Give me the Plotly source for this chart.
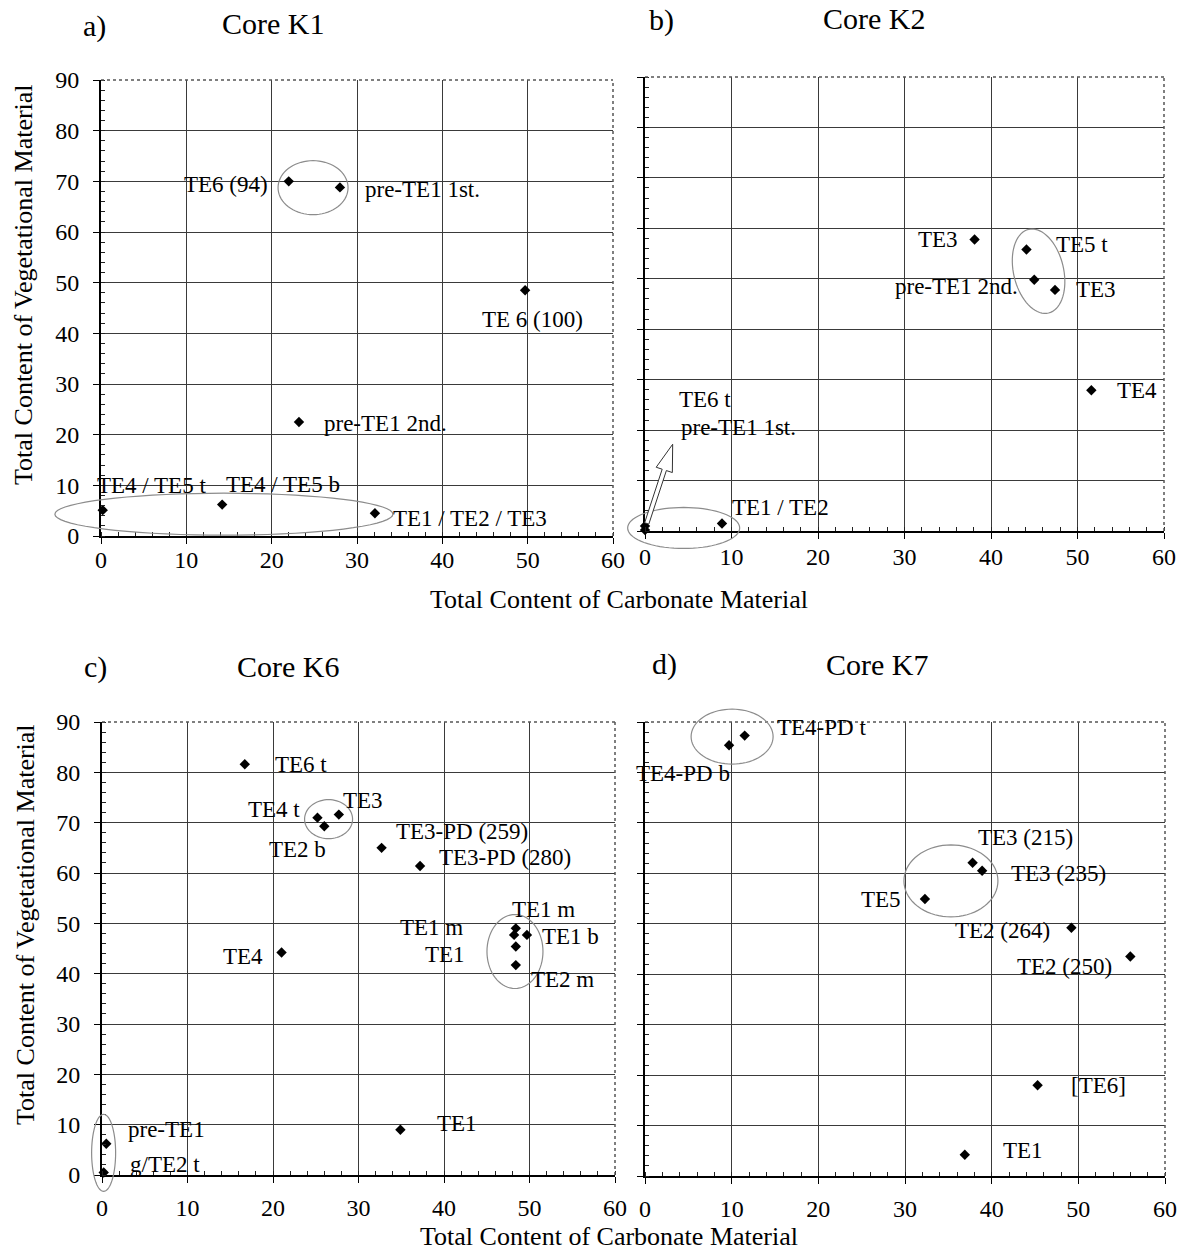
import math
import plotly.graph_objects as go

W, H = 1192, 1253
FONT = "Liberation Serif, Times New Roman, serif"

# ---------------- data ----------------
k1_labels = ["TE6 (94)", "pre-TE1 1st.", "TE 6 (100)", "pre-TE1 2nd.",
             "TE4 / TE5 t", "TE4 / TE5 b", "TE1 / TE2 / TE3"]
k1_carbonate = [22.0, 28.0, 49.7, 23.2, 0.2, 14.2, 32.1]
k1_vegetational = [70.0, 68.8, 48.5, 22.5, 5.1, 6.2, 4.5]

k2_labels = ["TE3", "TE5 t", "pre-TE1 2nd.", "TE3", "TE4", "TE1 / TE2",
             "TE6 t", "pre-TE1 1st."]
k2_carbonate = [38.1, 44.1, 45.0, 47.4, 51.6, 8.9, 0.0, 0.0]
k2_vegetational = [57.8, 55.8, 49.8, 47.8, 27.9, 1.5, 1.0, 0.2]

k6_labels = ["TE6 t", "TE4 t", "TE2 b", "TE3", "TE3-PD (259)", "TE3-PD (280)",
             "TE1 m", "TE1 m", "TE1 b", "TE1", "TE2 m", "TE4", "TE1",
             "pre-TE1", "g/TE2 t"]
k6_carbonate = [16.7, 25.2, 26.0, 27.7, 32.7, 37.2, 48.4, 48.2, 49.7, 48.4,
                48.4, 21.0, 34.9, 0.5, 0.2]
k6_vegetational = [81.6, 71.0, 69.3, 71.6, 65.0, 61.4, 49.0, 47.7, 47.7, 45.4,
                   41.7, 44.2, 9.0, 6.2, 0.5]

k7_labels = ["TE4-PD t", "TE4-PD b", "TE3 (215)", "TE3 (235)", "TE5",
             "TE2 (264)", "TE2 (250)", "[TE6]", "TE1"]
k7_carbonate = [11.5, 9.7, 37.8, 38.9, 32.3, 49.2, 56.0, 45.3, 36.9]
k7_vegetational = [87.3, 85.4, 62.1, 60.5, 54.9, 49.2, 43.5, 18.0, 4.2]

x_ticks = [0, 10, 20, 30, 40, 50, 60]
y_ticks = [0, 10, 20, 30, 40, 50, 60, 70, 80, 90]

# ---------------- label placement (anchor, dx px, dy px up) ----------------
k1_place = [("right", -19, -3), ("left", 23, -2), ("center", 7, -29),
            ("left", 23, -1), ("left", -8, 25), ("left", 2, 20),
            ("left", 16, -5)]
k2_place = [("right", -15, 0), ("left", 28, 5), ("right", -14, -7),
            ("left", 19, 0), ("left", 24, 0), ("left", 8, 16),
            ("left", 32, 126), ("left", 34, 102)]
k6_place = [("left", 28, 0), ("right", -15, 8), ("right", 4, -23),
            ("left", 2, 14), ("left", 12, 16), ("left", 17, 8),
            ("left", -6, 19), ("right", -49, 7), ("left", 13, -2),
            ("right", -49, -8), ("left", 13, -14), ("right", -17, -4),
            ("left", 35, 6), ("left", 20, 14), ("left", 24, 8)]
k7_place = [("left", 30, 8), ("right", 3, -28), ("left", 3, 25),
            ("left", 27, -3), ("right", -22, 0), ("right", -19, -3),
            ("right", -16, -10), ("left", 31, 0), ("left", 36, 4)]

# panel boxes in pixels: left, right, top, bottom
panels = [
    dict(letter="a)", title="Core K1", carb=k1_carbonate, veg=k1_vegetational,
         labels=k1_labels, place=k1_place, box=(101, 613, 80, 536), ylab=True,
         xstand=-5, letter_xy=(94, 26), title_xy=(273, 24)),
    dict(letter="b)", title="Core K2", carb=k2_carbonate, veg=k2_vegetational,
         labels=k2_labels, place=k2_place, box=(645, 1164, 77, 531), ylab=False,
         xstand=-3, letter_xy=(662, 20), title_xy=(874, 18)),
    dict(letter="c)", title="Core K6", carb=k6_carbonate, veg=k6_vegetational,
         labels=k6_labels, place=k6_place, box=(102, 615, 722, 1175), ylab=True,
         xstand=4, letter_xy=(95, 667), title_xy=(288, 667)),
    dict(letter="d)", title="Core K7", carb=k7_carbonate, veg=k7_vegetational,
         labels=k7_labels, place=k7_place, box=(645, 1165, 722, 1176), ylab=False,
         xstand=4, letter_xy=(664, 664), title_xy=(877, 664)),
]

# grouping ellipses: panel index, centre (data), semi-axes (px), tilt (deg, ccw)
ellipses = [
    (0, 24.85, 68.75, 35, 27, 0),
    (0, 14.4, 4.3, 169, 21, 0),
    (1, 45.5, 51.5, 25, 43, 13.4),
    (1, 4.47, 0.6, 56, 20.5, 0),
    (2, 26.5, 70.7, 24, 19.5, 0),
    (2, 48.3, 44.4, 28, 37, 0),
    (2, 0.19, 4.4, 12, 38.5, 0),
    (3, 10.05, 87.1, 41, 27.5, 0),
    (3, 35.3, 58.5, 47, 36, 0),
]

XR = (0, 60)
YR = (0, 90)

fig = go.Figure()


def suffix(i):
    return "" if i == 0 else str(i + 1)


def to_dom(x, y):
    return (x - XR[0]) / (XR[1] - XR[0]), (y - YR[0]) / (YR[1] - YR[0])


def paper_x(px):
    return px / W


def paper_y(py):
    return 1 - py / H


shapes = []
annotations = []

for i, p in enumerate(panels):
    s = suffix(i)
    l, r, t, b = p["box"]
    xdom = [paper_x(l), paper_x(r)]
    ydom = [paper_y(b), paper_y(t)]

    fig.add_trace(go.Scatter(
        x=p["carb"], y=p["veg"], mode="markers",
        marker=dict(symbol="diamond", size=8, color="black"),
        cliponaxis=False, showlegend=False, hoverinfo="x+y",
        xaxis="x" + s, yaxis="y" + s,
    ))

    common = dict(
        showline=True, linecolor="black", linewidth=2,
        showgrid=True, gridcolor="#3a3a3a", gridwidth=1, zeroline=False,
        ticks="outside", ticklen=6, tickwidth=1, tickcolor="black",
        tickfont=dict(family=FONT, size=24, color="black"),
        minor=dict(dtick=2, ticks="inside", ticklen=4, tickwidth=1,
                   tickcolor="#222", showgrid=False),
        fixedrange=True, automargin=False,
    )
    fig.update_layout(**{
        "xaxis" + s: dict(common, domain=xdom, range=list(XR), anchor="y" + s,
                          tickmode="array", tickvals=x_ticks,
                          ticklabelstandoff=p["xstand"]),
        "yaxis" + s: dict(common, domain=ydom, range=list(YR), anchor="x" + s,
                          tickmode="array", tickvals=y_ticks,
                          showticklabels=p["ylab"], ticklabelstandoff=9),
    })

    xref, yref = "x" + s + " domain", "y" + s + " domain"
    # dotted top and right frame
    shapes.append(dict(type="line", xref=xref, yref=yref, x0=0, x1=1, y0=1, y1=1,
                       line=dict(color="#555", width=1.5, dash="dot")))
    shapes.append(dict(type="line", xref=xref, yref=yref, x0=1, x1=1, y0=0, y1=1,
                       line=dict(color="#555", width=1.5, dash="dot")))

    # point labels
    for xv, yv, txt, (anc, dx, dy) in zip(p["carb"], p["veg"], p["labels"], p["place"]):
        annotations.append(dict(
            x=xv, y=yv, xref="x" + s, yref="y" + s, text=txt, showarrow=False,
            xanchor=anc, yanchor="middle", xshift=dx, yshift=dy,
            font=dict(family=FONT, size=23, color="black"),
        ))

    # panel letter and core title
    annotations.append(dict(x=paper_x(p["letter_xy"][0]), y=paper_y(p["letter_xy"][1]),
                            xref="paper", yref="paper", text=p["letter"],
                            showarrow=False, xanchor="center", yanchor="middle",
                            font=dict(family=FONT, size=30, color="black")))
    annotations.append(dict(x=paper_x(p["title_xy"][0]), y=paper_y(p["title_xy"][1]),
                            xref="paper", yref="paper", text=p["title"],
                            showarrow=False, xanchor="center", yanchor="middle",
                            font=dict(family=FONT, size=30, color="black")))

# grouping ellipses (drawn in axis-domain units so they may reach past the frame)
for (pi, cx, cy, rx, ry, tilt) in ellipses:
    l, r, t, b = panels[pi]["box"]
    pw, ph = r - l, b - t
    s = suffix(pi)
    u0, v0 = to_dom(cx, cy)
    a = math.radians(tilt)
    pts = []
    for k in range(73):
        th = 2 * math.pi * k / 72
        ex, ey = rx * math.cos(th), ry * math.sin(th)
        px = ex * math.cos(a) - ey * math.sin(a)
        py = ex * math.sin(a) + ey * math.cos(a)
        pts.append((u0 + px / pw, v0 + py / ph))
    path = "M " + " L ".join(f"{u:.5f},{v:.5f}" for u, v in pts) + " Z"
    shapes.append(dict(type="path", xref="x" + s + " domain", yref="y" + s + " domain",
                       path=path, line=dict(color="#8c8c8c", width=1.2)))

# hollow arrow in panel b pointing to the callout labels
tail = (0.2, 1.5)
tip = (3.2, 17.2)
l, r, t, b = panels[1]["box"]
pw, ph = r - l, b - t
tu, tv = to_dom(*tail)
hu, hv = to_dom(*tip)
tx, ty = tu * pw, tv * ph
hx, hy = hu * pw, hv * ph
L = math.hypot(hx - tx, hy - ty)
ux, uy = (hx - tx) / L, (hy - ty) / L
nx, ny = -uy, ux
shaft_w, head_w, head_l = 2.2, 8.5, 27
bx, by = hx - ux * head_l, hy - uy * head_l
arrow_px = [
    (tx + nx * shaft_w, ty + ny * shaft_w),
    (bx + nx * shaft_w, by + ny * shaft_w),
    (bx + nx * head_w, by + ny * head_w),
    (hx, hy),
    (bx - nx * head_w, by - ny * head_w),
    (bx - nx * shaft_w, by - ny * shaft_w),
    (tx - nx * shaft_w, ty - ny * shaft_w),
]
apath = "M " + " L ".join(f"{x / pw:.5f},{y / ph:.5f}" for x, y in arrow_px) + " Z"
shapes.append(dict(type="path", xref="x2 domain", yref="y2 domain", path=apath,
                   fillcolor="white", line=dict(color="#333", width=1)))

# shared axis titles
for (xc, yc) in [(619, 599), (609, 1236)]:
    annotations.append(dict(x=paper_x(xc), y=paper_y(yc), xref="paper", yref="paper",
                            text="Total Content of Carbonate Material",
                            showarrow=False, xanchor="center", yanchor="middle",
                            font=dict(family=FONT, size=26, color="black")))
for (xc, yc) in [(23, 285), (25, 925)]:
    annotations.append(dict(x=paper_x(xc), y=paper_y(yc), xref="paper", yref="paper",
                            text="Total Content of Vegetational Material",
                            textangle=-90, showarrow=False,
                            xanchor="center", yanchor="middle",
                            font=dict(family=FONT, size=26, color="black")))

fig.update_layout(
    width=W, height=H,
    margin=dict(l=0, r=0, t=0, b=0, pad=0, autoexpand=False),
    paper_bgcolor="white", plot_bgcolor="white",
    showlegend=False, shapes=shapes, annotations=annotations,
    font=dict(family=FONT, color="black"),
)

fig.write_html("out.html")
